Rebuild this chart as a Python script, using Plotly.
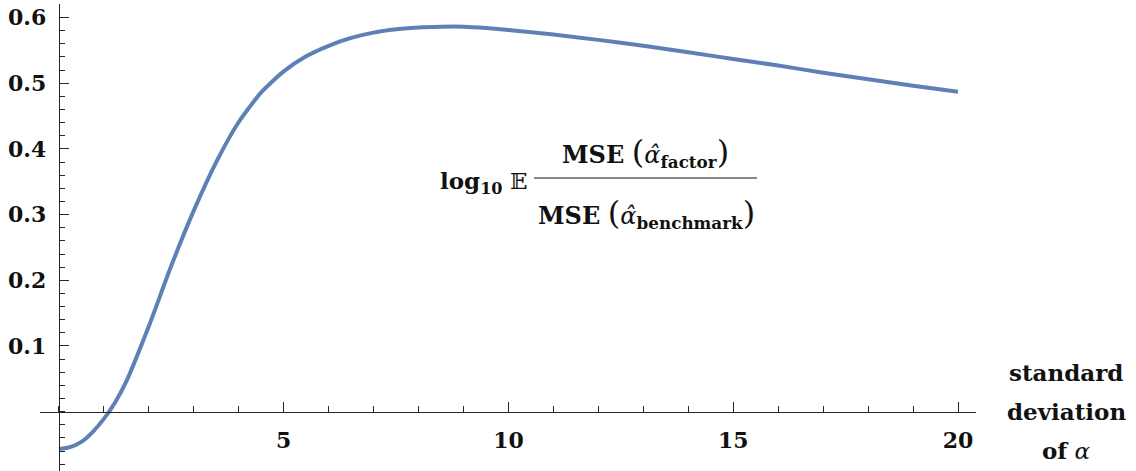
import plotly.graph_objects as go

# data
sd_alpha = [0, 0.25, 0.5, 0.75, 1.0, 1.25, 1.5, 2.0, 2.5, 3.0, 3.5, 4.0, 4.5,
            5.0, 5.5, 6.0, 6.5, 7.0, 7.5, 8.0, 8.5, 9.0, 9.5, 10, 11, 12, 13,
            14, 15, 16, 17, 18, 19, 20]
log_ratio = [-0.057, -0.054, -0.046, -0.031, -0.011, 0.014, 0.046, 0.130,
             0.222, 0.306, 0.380, 0.441, 0.486, 0.518, 0.541, 0.557, 0.569,
             0.577, 0.582, 0.585, 0.586, 0.586, 0.584, 0.581, 0.574, 0.566,
             0.557, 0.547, 0.537, 0.527, 0.516, 0.506, 0.496, 0.487]
x_ticks = [5, 10, 15, 20]
y_ticks = [0.1, 0.2, 0.3, 0.4, 0.5, 0.6]
y_tick_text = ["0.1", "0.2", "0.3", "0.4", "0.5", "0.6"]

W, H = 1136, 471
ML, MR, MT, MB = 40, 160, 4, 0
PW, PH = W - ML - MR, H - MT - MB
XR = [-0.42, 20.40]
YR = [-0.0903, 0.6206]

def px(xp):
    return (xp - ML) / PW

def py(yp):
    return (H - MB - yp) / PH

FONT = "DejaVu Serif"
AX = "#262626"

fig = go.Figure()
fig.add_trace(go.Scatter(
    x=sd_alpha, y=log_ratio, mode="lines",
    line=dict(color="#5e81b5", width=4, shape="spline", smoothing=0.6),
    hoverinfo="skip", showlegend=False,
))

fig.update_layout(
    width=W, height=H, template="none",
    margin=dict(l=ML, r=MR, t=MT, b=MB, pad=0),
    paper_bgcolor="white", plot_bgcolor="white",
    xaxis=dict(
        range=XR, domain=[0, 1], anchor="free",
        position=(0 - YR[0]) / (YR[1] - YR[0]),
        showgrid=False, zeroline=False, showline=True, linecolor=AX, linewidth=1.3,
        tickmode="array", tickvals=x_ticks, ticktext=[str(v) for v in x_ticks],
        ticks="inside", ticklen=10, tickwidth=1.3, tickcolor=AX,
        minor=dict(tickmode="linear", tick0=0, dtick=1, ticks="inside",
                   ticklen=6, tickwidth=1.2, tickcolor=AX, showgrid=False),
        tickfont=dict(family=FONT, size=22, color="#111", weight="bold"),
        ticklabelstandoff=9, automargin=False,
    ),
    yaxis=dict(
        range=YR, domain=[0, 1], anchor="free",
        position=(0 - XR[0]) / (XR[1] - XR[0]),
        showgrid=False, zeroline=False, showline=True, linecolor=AX, linewidth=1.3,
        tickmode="array", tickvals=y_ticks, ticktext=y_tick_text,
        ticks="inside", ticklen=9, tickwidth=1.3, tickcolor=AX,
        minor=dict(tickmode="linear", tick0=0, dtick=0.02, ticks="inside",
                   ticklen=5, tickwidth=1.2, tickcolor=AX, showgrid=False),
        tickfont=dict(family=FONT, size=22, color="#111", weight="bold"),
        ticklabelstandoff=8, automargin=False,
    ),
)

tf = dict(family=FONT, size=23, color="#111")
PAR_L = '<span style="font-size:32px">(</span>'
PAR_R = '<span style="font-size:32px">)</span>'

# formula label
fig.add_annotation(xref="paper", yref="paper", x=px(529), y=py(182),
                   xanchor="right", yanchor="middle", showarrow=False,
                   text="<b>log<sub>10</sub></b> 𝔼", font=tf)
fig.add_annotation(xref="paper", yref="paper", x=px(645), y=py(153),
                   xanchor="center", yanchor="middle", showarrow=False,
                   text="<b>MSE</b> " + PAR_L + "<i>α̂</i><sub><b>factor</b></sub>" + PAR_R,
                   font=dict(family=FONT, size=24, color="#111"))
fig.add_annotation(xref="paper", yref="paper", x=px(646), y=py(214),
                   xanchor="center", yanchor="middle", showarrow=False,
                   text="<b>MSE</b> " + PAR_L + "<i>α̂</i><sub><b>benchmark</b></sub>" + PAR_R,
                   font=dict(family=FONT, size=24, color="#111"))
fig.add_shape(type="line", xref="paper", yref="paper",
              x0=px(534), x1=px(757), y0=py(178), y1=py(178),
              line=dict(color="#111", width=1.2))

# axis label on the right
for txt, yc in [("<b>standard</b>", 372), ("<b>deviation</b>", 411), ("<b>of</b> <i>α</i>", 450)]:
    fig.add_annotation(xref="paper", yref="paper", x=px(1066), y=py(yc),
                       xanchor="center", yanchor="middle", showarrow=False,
                       text=txt, font=tf)

fig.write_html("out.html")
